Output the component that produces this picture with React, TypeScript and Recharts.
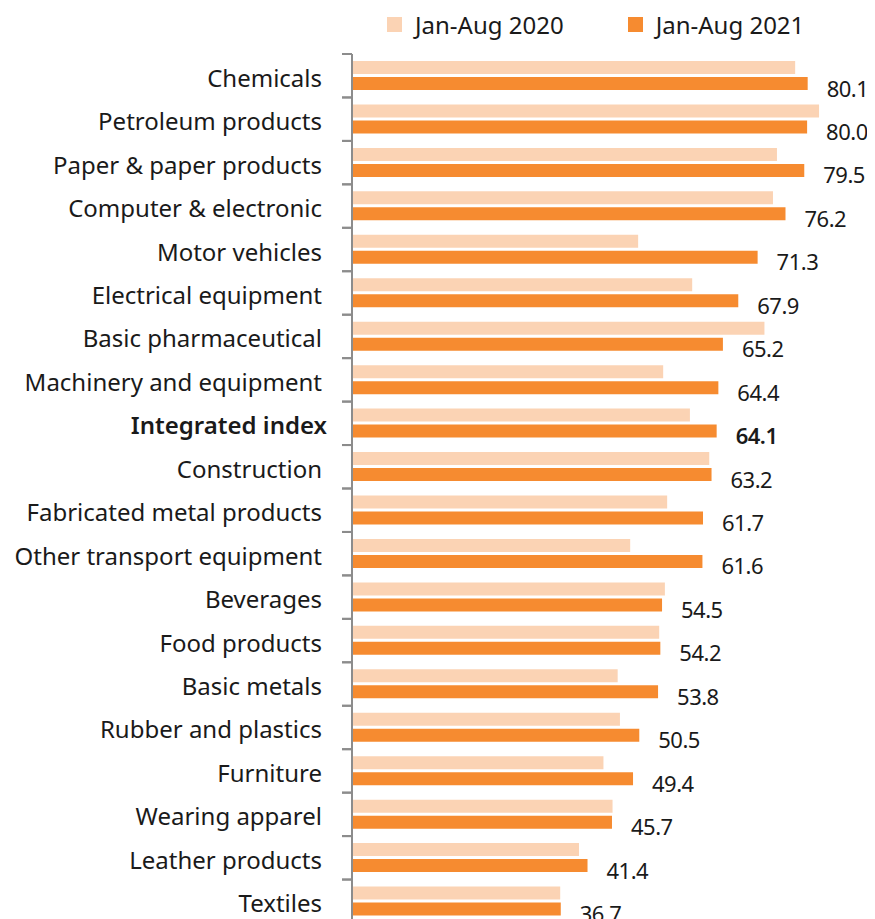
import { BarChart, Bar, XAxis, YAxis, LabelList } from "recharts";

const CATEGORIES = [
  "Chemicals",
  "Petroleum products",
  "Paper & paper products",
  "Computer & electronic",
  "Motor vehicles",
  "Electrical equipment",
  "Basic pharmaceutical",
  "Machinery and equipment",
  "Integrated index",
  "Construction",
  "Fabricated metal products",
  "Other transport equipment",
  "Beverages",
  "Food products",
  "Basic metals",
  "Rubber and plastics",
  "Furniture",
  "Wearing apparel",
  "Leather products",
  "Textiles",
];

const Y2020 = [
  77.9, 82.1, 74.7, 74.0, 50.3, 59.8, 72.5, 54.7, 59.4, 62.8,
  55.4, 48.9, 55.0, 54.0, 46.7, 47.1, 44.2, 45.8, 39.9, 36.6,
];

const Y2021 = [
  80.1, 80.0, 79.5, 76.2, 71.3, 67.9, 65.2, 64.4, 64.1, 63.2,
  61.7, 61.6, 54.5, 54.2, 53.8, 50.5, 49.4, 45.7, 41.4, 36.7,
];

const SERIES = ["Jan-Aug 2020", "Jan-Aug 2021"];
const HIGHLIGHT = "Integrated index";

const LIGHT = "#fbd3b4";
const ORANGE = "#f68b30";
const AXIS = "#8c8c8c";
const FONT = "'Noto Sans', sans-serif";

const data = CATEGORIES.map((name, i) => ({
  name,
  y2020: Y2020[i],
  y2021: Y2021[i],
}));

const W = 867;
const H = 920;
const MARGIN = { top: 46, right: 11, bottom: 5, left: 0 };
const BAND = (H - MARGIN.top - MARGIN.bottom) / CATEGORIES.length;

function CategoryTick(props: any) {
  const { x, y, payload } = props;
  const axisX = x + 30;
  const bold = payload.value === HIGHLIGHT;
  return (
    <g>
      <line x1={axisX - 10} x2={axisX} y1={y - BAND / 2} y2={y - BAND / 2} stroke={AXIS} strokeWidth={2} />
      <line x1={axisX - 10} x2={axisX} y1={y + BAND / 2} y2={y + BAND / 2} stroke={AXIS} strokeWidth={2} />
      <text
        x={bold ? x + 5 : x}
        y={y + 11}
        textAnchor="end"
        fontSize={24}
        fontFamily={FONT}
        fontWeight={bold ? 600 : 400}
        fill="#1a1a1a"
      >
        {payload.value}
      </text>
    </g>
  );
}

function ValueLabel(props: any) {
  const { x, y, width, height, value, index } = props;
  const bold = CATEGORIES[index] === HIGHLIGHT;
  return (
    <text
      x={x + width + 19}
      y={y + height / 2 + 13}
      fontSize={22}
      letterSpacing={-0.5}
      fontFamily={FONT}
      fontWeight={bold ? 600 : 400}
      fill="#1a1a1a"
    >
      {Number(value).toFixed(1)}
    </text>
  );
}

function LegendBox() {
  const colors = [LIGHT, ORANGE];
  return (
    <div
      style={{
        position: "absolute",
        top: 0,
        left: 379,
        display: "flex",
        alignItems: "center",
        fontFamily: FONT,
        fontSize: 24,
        color: "#1a1a1a",
      }}
    >
      {SERIES.map((s, i) => (
        <div key={s} style={{ display: "flex", alignItems: "center", marginRight: 64 }}>
          <span style={{ width: 15, height: 15, background: colors[i], marginRight: 13 }} />
          <span>{s}</span>
        </div>
      ))}
    </div>
  );
}

export default function App() {
  return (
    <div style={{ position: "relative", width: W, height: 911, overflow: "hidden" }}>
      <LegendBox />
      <BarChart
        width={W}
        height={H}
        data={data}
        layout="vertical"
        margin={MARGIN}
        barSize={13}
        barGap={3}
      >
        <XAxis type="number" domain={[0, 90]} hide />
        <YAxis
          type="category"
          dataKey="name"
          width={344}
          tickSize={0}
          tickMargin={30}
          interval={0}
          tick={<CategoryTick />}
          axisLine={{ stroke: AXIS, strokeWidth: 2 }}
        />
        <Bar dataKey="y2020" name={SERIES[0]} fill={LIGHT} isAnimationActive={false} />
        <Bar dataKey="y2021" name={SERIES[1]} fill={ORANGE} isAnimationActive={false}>
          <LabelList dataKey="y2021" content={<ValueLabel />} />
        </Bar>
      </BarChart>
    </div>
  );
}
